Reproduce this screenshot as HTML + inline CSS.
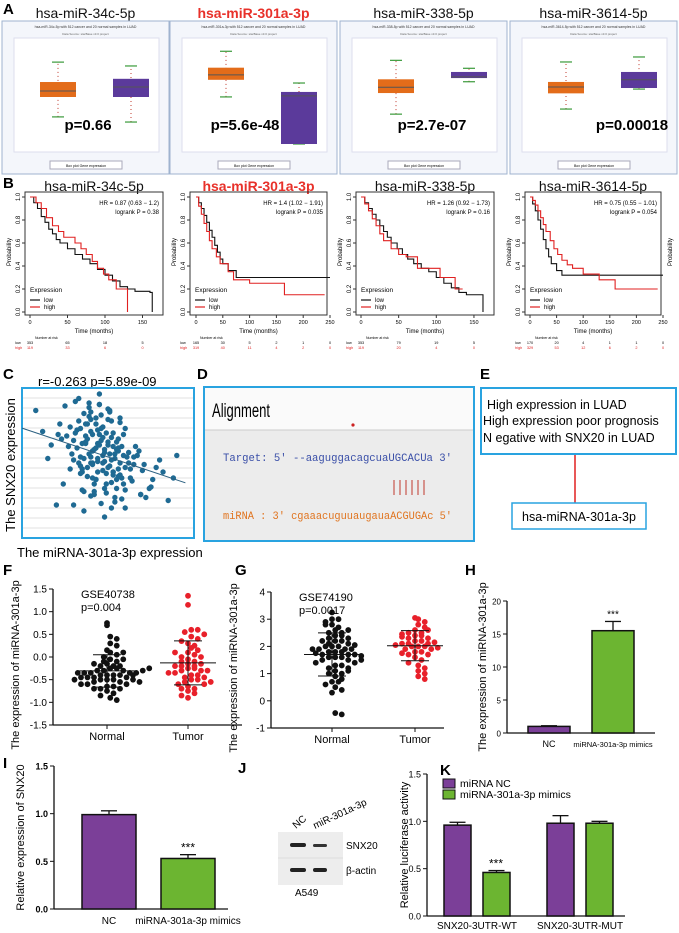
<!DOCTYPE html>
<html><head><meta charset="utf-8">
<style>
body{margin:0;background:#fff;}
svg{display:block;font-family:"Liberation Sans",sans-serif;}
.pl{font-weight:bold;font-size:15px;}
</style></head>
<body>
<svg id="fig" width="679" height="933" viewBox="0 0 679 933" xmlns="http://www.w3.org/2000/svg">
<text class="pl" x="3" y="14">A</text>
<text class="pl" x="3" y="188">B</text>
<text class="pl" x="3" y="379">C</text>
<text class="pl" x="197" y="379">D</text>
<text class="pl" x="480" y="379">E</text>
<text class="pl" x="3" y="575">F</text>
<text class="pl" x="235" y="575">G</text>
<text class="pl" x="465" y="575">H</text>
<text class="pl" x="3" y="768">I</text>
<text class="pl" x="238" y="773">J</text>
<text class="pl" x="440" y="775">K</text>
<g id="gA"></g>
<g id="gB"></g>
<g>
<text x="38" y="386" font-size="13">r=-0.263  p=5.89e-09</text>
<rect x="22" y="388" width="172" height="150" fill="#fff" stroke="#29a3e0" stroke-width="2"/>
<g id="cgrid"></g><g id="cpts"></g>
<text transform="translate(15,465) rotate(-90)" text-anchor="middle" font-size="13">The SNX20 expression</text>
<text x="17" y="557" font-size="13">The miRNA-301a-3p expression</text>
</g>
<g>
<rect x="204" y="387" width="270" height="154" fill="#ececec" stroke="#29a3e0" stroke-width="2"/>
<rect x="205" y="388" width="268" height="42" fill="#fafafa"/>
<line x1="205" y1="430" x2="473" y2="430" stroke="#ccc"/>
<text x="212" y="417" font-size="19" textLength="58" lengthAdjust="spacingAndGlyphs">Alignment</text>
<circle cx="353" cy="425" r="1.6" fill="#c22"/>
<text x="223" y="461" font-size="11" fill="#3a4fa8" font-family="Liberation Mono, monospace" textLength="229" lengthAdjust="spacingAndGlyphs">Target: 5' --aaguggacagcuaUGCACUa 3'</text>
<g stroke="#c0392b" stroke-width="1"><line x1="394" y1="480" x2="394" y2="495"/><line x1="400" y1="480" x2="400" y2="495"/><line x1="406" y1="480" x2="406" y2="495"/><line x1="412" y1="480" x2="412" y2="495"/><line x1="418" y1="480" x2="418" y2="495"/><line x1="424" y1="480" x2="424" y2="495"/></g>
<text x="223" y="519" font-size="11" fill="#e0741f" font-family="Liberation Mono, monospace" textLength="229" lengthAdjust="spacingAndGlyphs">miRNA : 3' cgaaacuguuaugauaACGUGAc 5'</text>
</g>
<g>
<rect x="481" y="388" width="195" height="66" fill="#fff" stroke="#29a3e0" stroke-width="2"/>
<text x="487" y="409" font-size="12.5">High expression in LUAD</text>
<text x="483" y="425" font-size="12.5">High expression poor prognosis</text>
<text x="483" y="442" font-size="12.5">N egative with SNX20 in LUAD</text>
<line x1="575" y1="455" x2="575" y2="503" stroke="#e02020" stroke-width="1.5"/>
<rect x="512" y="503" width="134" height="26" fill="#fff" stroke="#29a3e0" stroke-width="1.5"/>
<text x="579" y="521" font-size="12.5" text-anchor="middle">hsa-miRNA-301a-3p</text>
</g>
<g id="gF"></g>
<g id="gG"></g>
<g id="gH"></g>
<g id="gI"></g>
<g>
<rect x="278" y="832" width="65" height="53" fill="#ededed"/>
<line x1="278" y1="858" x2="343" y2="858" stroke="#ddd"/>
<rect x="290" y="843" width="16" height="4" rx="2" fill="#222"/><rect x="313" y="844" width="14" height="3" rx="1.5" fill="#333"/>
<rect x="290" y="868" width="16" height="4" rx="2" fill="#222"/><rect x="313" y="868" width="14" height="4" rx="2" fill="#222"/>
<text transform="translate(296,829) rotate(-40)" font-size="10">NC</text>
<text transform="translate(315,829) rotate(-25)" font-size="10">miR-301a-3p</text>
<text x="346" y="849" font-size="10">SNX20</text>
<text x="346" y="874" font-size="10">β-actin</text>
<text x="295" y="896" font-size="10">A549</text>
</g>
<g id="gK"></g>
</svg>
<script>
const aTitles=["hsa-miR-34c-5p","hsa-miR-301a-3p","hsa-miR-338-5p","hsa-miR-3614-5p"];
const aPvals=["p=0.66","p=5.6e-48","p=2.7e-07","p=0.00018"];
const aDomLo=[-10,-7.5,-7.5,-7.5];
const aDomHi=[15,7.5,10,7.5];
const aCancer=[[-2.5,2.15,3.55,5.65,10.3],[-0.2,2.2,2.9,3.9,6.2],[-1.8,1.65,2.6,3.9,7],[-1.9,0.3,1.2,1.9,4.7]];
const aNormal=[[-3.7,2.15,4.5,6.4,9.4],[-6.8,-6.8,-0.05,0.5,1.75],[3.5,4.1,4.3,5.1,5.7],[0.9,1.05,2.2,3.3,5.4]];
const bTitles=["hsa-miR-34c-5p","hsa-miR-301a-3p","hsa-miR-338-5p","hsa-miR-3614-5p"];
const bHR=["HR = 0.87 (0.63 − 1.2)","HR = 1.4 (1.02 − 1.91)","HR = 1.26 (0.92 − 1.73)","HR = 0.75 (0.55 − 1.01)"];
const bLog=["logrank P = 0.38","logrank P = 0.035","logrank P = 0.16","logrank P = 0.054"];
const bTicks=[[0,50,100,150],[0,50,100,150,200,250],[0,50,100,150],[0,50,100,150,200,250]];
const bLow=[
[[0,1],[5,.95],[10,.9],[15,.83],[20,.78],[25,.72],[30,.68],[35,.63],[40,.6],[50,.55],[60,.5],[70,.46],[80,.42],[90,.37],[100,.32],[110,.27],[120,.22],[130,.2],[140,.18],[160,.17],[163,0]],
[[0,1],[5,.95],[10,.9],[15,.84],[20,.78],[25,.71],[30,.65],[35,.58],[40,.52],[45,.46],[50,.42],[60,.36],[75,.3],[250,.3]],
[[0,1],[5,.95],[10,.9],[15,.85],[20,.8],[25,.75],[30,.7],[35,.65],[40,.6],[48,.55],[55,.5],[62,.46],[70,.42],[80,.38],[90,.35],[100,.3],[110,.25],[120,.21],[130,.17],[140,.15],[160,.15],[162,0]],
[[0,1],[5,.94],[10,.88],[15,.8],[20,.72],[25,.63],[30,.55],[35,.48],[40,.42],[50,.36],[60,.32],[250,.32]]];
const bHigh=[
[[0,1],[8,.95],[15,.9],[22,.82],[30,.75],[38,.7],[45,.65],[60,.6],[68,.55],[75,.5],[83,.44],[90,.38],[98,.33],[105,.28],[115,.2],[130,.2],[130,0]],
[[0,1],[5,.92],[10,.85],[15,.77],[20,.7],[25,.62],[30,.55],[38,.48],[45,.42],[60,.35],[70,.28],[100,.25],[165,.25],[165,.15],[240,.15]],
[[0,1],[5,.94],[10,.88],[15,.81],[20,.75],[25,.68],[30,.62],[40,.55],[50,.5],[60,.48],[75,.38],[100,.38],[105,.3],[125,.2],[135,.2]],
[[0,1],[5,.97],[10,.93],[15,.88],[20,.82],[25,.76],[30,.7],[38,.62],[45,.55],[52,.5],[60,.45],[70,.41],[80,.38],[100,.33],[130,.28],[160,.2],[240,.2]]];
const bRiskLow=[["353","65","18","5"],["165","30","5","2","1","0"],["353","79","19","5"],["170","20","4","1","1","0"]];
const bRiskHigh=[["119","33","6","0"],["319","40","11","4","2","0"],["119","20","4","0"],["329","53","12","6","2","0"]];
const cX=[0.8,1.5,2.2,2.5,2.8,3,3.1,3.3,3.4,3.5,3.6,3.7,3.8,3.9,4,4,4.1,4.2,4.3,4.3,4.4,4.5,4.5,4.6,4.7,4.8,4.9,5,5,5.1,5.2,5.3,5.4,5.5,5.6,5.7,5.8,6,6.2,6.4,6.6,7,7.5,8,8.5,9,2.6,2.9,3.2,3.5,3.8,4.1,4.4,4.7,5,5.3,5.6,5.9,6.3,6.8,3,3.6,4.2,4.8,5.4,6,3.3,3.9,4.5,5.1,5.7,2.4,3.7,4.6,5.5,6.5,7.2,4.0,4.9,5.8,1.7,2.0,7.8,8.8,6.1,3.4,4.3,5.2,6.9,7.4,
3.2,3.5,3.8,4.1,4.4,4.7,5.0,5.3,5.6,5.9,3.3,3.6,3.9,4.2,4.5,4.8,5.1,5.4,5.7,6.0,3.1,3.4,3.7,4.0,4.3,4.6,4.9,5.2,5.5,5.8,3.5,3.8,4.1,4.4,4.7,5.0,5.3,5.6,6.2,6.5,2.7,3.0,4.0,4.6,5.2,5.9,6.7,2.3,2.8,7.1,4.3,4.9,5.5,3.6,4.2,4.8,5.4,6.0,3.9,4.5,5.1,5.7,4.1,4.7,5.3,6.3,3.4,2.1,7.6,8.2,6.9,1.2,4.0,4.4,4.8,5.2,5.6,3.7];
const cY=[8.5,5.3,7.6,8.8,4.6,6.5,9.1,7.8,5.4,3.2,8.3,6.4,4.1,9.0,2.8,7.1,5.8,3.6,8.0,6.0,4.4,9.6,6.9,2.3,7.4,5.1,3.0,8.6,6.2,4.8,2.0,7.0,5.6,3.3,6.6,4.2,2.6,7.3,5.0,3.8,6.1,4.5,3.4,5.2,2.5,5.5,6.8,5.6,7.2,4.6,7.6,4.0,6.3,5.5,7.9,4.4,6.0,3.6,4.6,5.8,2.2,1.8,3.1,1.4,2.4,2.0,9.3,8.1,8.9,8.4,7.7,3.6,6.8,6.5,5.9,4.9,2.7,5.0,4.3,4.0,6.2,2.2,4.7,4.0,5.4,4.8,3.9,3.7,2.9,3.3,
6.0,6.3,6.6,6.9,7.2,6.7,6.4,6.1,5.8,5.5,5.0,5.3,5.6,5.9,6.2,5.9,5.6,5.3,5.0,4.7,7.0,7.3,7.6,7.9,7.6,7.3,7.0,6.7,6.4,6.1,4.4,4.7,5.0,5.3,5.0,4.7,4.4,4.1,5.7,5.4,6.1,5.2,8.4,8.2,7.8,6.9,5.5,6.6,7.4,4.9,3.9,3.6,3.9,3.1,2.9,3.3,2.7,3.2,8.7,8.9,8.5,8.0,4.9,4.5,4.2,4.0,4.3,6.9,3.9,4.4,2.9,7.1,5.4,5.1,5.7,5.2,4.6,6.3];
const fNormal=[0.75,0.7,0.45,0.4,0.3,0.25,0.15,0.1,0.05,0,-0.05,-0.1,-0.1,-0.15,-0.2,-0.2,-0.25,-0.25,-0.3,-0.3,-0.3,-0.35,-0.35,-0.35,-0.35,-0.4,-0.4,-0.4,-0.4,-0.45,-0.45,-0.45,-0.5,-0.5,-0.5,-0.55,-0.55,-0.6,-0.6,-0.65,-0.65,-0.7,-0.7,-0.75,-0.8,-0.85,-0.9,-0.95,-0.3,-0.4,-0.5,-0.35,-0.45,-0.2,-0.6,-0.15,-0.05,0.1,-0.7,-0.55,-0.25,-0.5];
const fTumor=[1.35,1.15,0.6,0.6,0.55,0.5,0.45,0.4,0.3,0.25,0.2,0.15,0.1,0.05,0,-0.05,-0.1,-0.1,-0.15,-0.2,-0.2,-0.25,-0.25,-0.3,-0.3,-0.35,-0.4,-0.4,-0.45,-0.5,-0.5,-0.55,-0.6,-0.6,-0.65,-0.7,-0.75,-0.8,-0.85,-0.9,0.35,0.0,-0.15,-0.3,-0.45,-0.55,-0.7,0.1,-0.2,-0.35];
const gNormal=[3.25,3.0,3.0,2.9,2.8,2.7,2.6,2.5,2.5,2.4,2.4,2.3,2.3,2.2,2.2,2.1,2.1,2.0,2.0,2.0,1.9,1.9,1.9,1.8,1.8,1.8,1.7,1.7,1.7,1.6,1.6,1.6,1.5,1.5,1.4,1.4,1.3,1.3,1.2,1.2,1.1,1.0,1.0,0.9,0.8,0.7,0.7,0.6,0.5,0.4,0.3,-0.45,-0.5,2.6,2.2,1.9,1.5,1.1,2.8,1.75,2.05,1.65];
const gTumor=[3.05,3.0,2.9,2.8,2.7,2.6,2.5,2.5,2.4,2.4,2.3,2.3,2.2,2.2,2.1,2.1,2.1,2.0,2.0,2.0,1.9,1.9,1.8,1.8,1.7,1.7,1.6,1.5,1.4,1.3,1.2,1.1,1.0,0.9,0.8,2.6,2.35,2.15,1.95,1.75,2.45,2.05];
const hCats=["NC","miRNA-301a-3p mimics"];
const hVals=[1.0,15.5];
const hErr=[0.1,1.4];
const iCats=["NC","miRNA-301a-3p mimics"];
const iVals=[0.99,0.53];
const iErr=[0.04,0.04];
const kGroups=["SNX20-3UTR-WT","SNX20-3UTR-MUT"];
const kNC=[0.96,0.98];
const kNCErr=[0.03,0.08];
const kMim=[0.46,0.98];
const kMimErr=[0.02,0.02];

const NS="http://www.w3.org/2000/svg";
function mk(parent,tag,attrs,txt){const e=document.createElementNS(NS,tag);for(const k in attrs)e.setAttribute(k,attrs[k]);if(txt!==undefined)e.textContent=txt;parent.appendChild(e);return e;}
const PURPLE="#7b3f98",GREEN="#6cb531";

(function(){
 const g=document.getElementById('gA');
 const lefts=[2,170,340,510];
 for(let i=0;i<4;i++){
  const L=lefts[i],W=167;
  const t=mk(g,'text',{x:L+W/2,y:18,'text-anchor':'middle','font-size':14,fill:i==1?'#e8312a':'#111','font-weight':i==1?'bold':'normal'},aTitles[i]);
  
  
  const fr=mk(g,'rect',{x:L,y:21,width:W,height:153,fill:'#f4f6fb',stroke:'#9fb3cf','stroke-width':1});
  
  
  mk(g,'rect',{x:L+12,y:38,width:W-22,height:114,fill:'#fff',stroke:'#dde'});
  mk(g,'text',{x:L+W/2,y:28,'text-anchor':'middle','font-size':3.5,fill:'#333'},aTitles[i]+" with 512 cancer and 20 normal samples in LUAD");
  mk(g,'text',{x:L+W/2,y:35,'text-anchor':'middle','font-size':3,fill:'#666'},"Data Source: starBase v3.0 project");
  const lo=aDomLo[i],hi=aDomHi[i];
  const y=v=>42+(hi-v)/(hi-lo)*107;
  const boxes=[[aCancer[i],L+56,'#e36c1a','cancer'],[aNormal[i],L+129,'#5b3a9b','normal']];
  boxes.forEach(([s,cx,col,nm])=>{
   mk(g,'line',{x1:cx,y1:y(s[0]),x2:cx,y2:y(s[4]),stroke:'#c0392b','stroke-width':1,'stroke-dasharray':'1,3'});
   mk(g,'line',{x1:cx-6,y1:y(s[4]),x2:cx+6,y2:y(s[4]),stroke:'#3a9a3a','stroke-width':1.2});
   mk(g,'line',{x1:cx-6,y1:y(s[0]),x2:cx+6,y2:y(s[0]),stroke:'#3a9a3a','stroke-width':1.2});
   const b=mk(g,'rect',{x:cx-18,y:y(s[3]),width:36,height:Math.max(1,y(s[1])-y(s[3])),fill:col});
   
   
   mk(g,'line',{x1:cx-18,y1:y(s[2]),x2:cx+18,y2:y(s[2]),stroke:'#555','stroke-width':1});
  });
  const p=mk(g,'text',{x:L+(i==3?122:i==0?86:i==1?75:92),y:130,'text-anchor':'middle','font-size':15,'font-weight':'bold'},aPvals[i]);
  
  
  mk(g,'rect',{x:L+48,y:161,width:72,height:8,fill:'#fff',stroke:'#aab'});
  mk(g,'text',{x:L+84,y:167,'text-anchor':'middle','font-size':3.5},"Box plot    Gene expression");
 }
})();

(function(){
 const g=document.getElementById('gB');
 const fx=[[25,163,30,0.75],[190,327,196,0.536],[356,494,361,0.753],[525,661,530,0.532]];
 for(let i=0;i<4;i++){
  const [L,R,x0,k]=fx[i];
  const X=t=>x0+t*k, Y=p=>312-p*115;
  const t=mk(g,'text',{x:(L+R)/2,y:191,'text-anchor':'middle','font-size':14,fill:i==1?'#e8312a':'#111','font-weight':i==1?'bold':'normal'},bTitles[i]);
  
  
  const fr=mk(g,'rect',{x:L,y:192,width:R-L,height:123,fill:'none',stroke:'#333','stroke-width':1});
  
  
  [0,0.2,0.4,0.6,0.8,1].forEach(v=>{
   mk(g,'line',{x1:L-3,y1:Y(v),x2:L,y2:Y(v),stroke:'#333'});
   mk(g,'text',{transform:`translate(${L-5},${Y(v)}) rotate(-90)`,'text-anchor':'middle','font-size':6},v.toFixed(1));
  });
  mk(g,'text',{transform:`translate(${L-14},252) rotate(-90)`,'text-anchor':'middle','font-size':6},'Probability');
  bTicks[i].forEach(v=>{
   mk(g,'line',{x1:X(v),y1:315,x2:X(v),y2:318,stroke:'#333'});
   mk(g,'text',{x:X(v),y:324,'text-anchor':'middle','font-size':5.5},v);
  });
  mk(g,'text',{x:(L+R)/2,y:333,'text-anchor':'middle','font-size':6},'Time (months)');
  [[bLow[i],'#111','low'],[bHigh[i],'#e02020','high']].forEach(([pts,col,nm])=>{
   let d='M'+X(pts[0][0])+','+Y(pts[0][1]);
   for(let j=1;j<pts.length;j++){d+=' H'+X(pts[j][0])+' V'+Y(pts[j][1]);}
   const pth=mk(g,'path',{d:d,fill:'none',stroke:col,'stroke-width':1.1});
   
   
  });
  mk(g,'text',{x:R-4,y:205,'text-anchor':'end','font-size':6},bHR[i]);
  mk(g,'text',{x:R-4,y:214,'text-anchor':'end','font-size':6},bLog[i]);
  mk(g,'text',{x:L+5,y:292,'font-size':6.5},'Expression');
  mk(g,'line',{x1:L+5,y1:300,x2:L+15,y2:300,stroke:'#111','stroke-width':1.2});
  mk(g,'text',{x:L+19,y:302,'font-size':6},'low');
  mk(g,'line',{x1:L+5,y1:307,x2:L+15,y2:307,stroke:'#e02020','stroke-width':1.2});
  mk(g,'text',{x:L+19,y:309,'font-size':6},'high');
  mk(g,'text',{x:L+10,y:339,'font-size':3.5},'Number at risk');
  bTicks[i].forEach((v,j)=>{
   mk(g,'text',{x:X(v),y:344,'text-anchor':'middle','font-size':3.8},bRiskLow[i][j]);
   mk(g,'text',{x:X(v),y:349,'text-anchor':'middle','font-size':3.8,fill:'#e02020'},bRiskHigh[i][j]);
  });
  mk(g,'text',{x:L-10,y:344,'font-size':3.8},'low');
  mk(g,'text',{x:L-10,y:349,'font-size':3.8,fill:'#e02020'},'high');
 }
 mk(g,'text',{transform:'translate(672,252) rotate(-90)','text-anchor':'middle','font-size':6},'Probability');
})();

(function(){
 const gg=document.getElementById('cgrid'), gp=document.getElementById('cpts');
 for(let y=398;y<538;y+=10) mk(gg,'line',{x1:23,y1:y,x2:193,y2:y,stroke:'#e2e2e2'});
 const X=v=>22+v*17.2, Y=v=>538-v*15;
 const n=cX.length;let mx=0,my=0;for(let i=0;i<n;i++){mx+=cX[i];my+=cY[i];}mx/=n;my/=n;
 let sxy=0,sxx=0;for(let i=0;i<n;i++){sxy+=(cX[i]-mx)*(cY[i]-my);sxx+=(cX[i]-mx)**2;}
 const b=sxy/sxx,a=my-b*mx;
 for(let i=0;i<n;i++){
  const c=mk(gp,'circle',{cx:X(cX[i]),cy:Y(cY[i]),r:2.7,fill:'#1f6a93'});
  
  
 }
 const ln=mk(gp,'line',{x1:X(0),y1:Y(a),x2:X(9.5),y2:Y(a+b*9.5),stroke:'#2a5f80','stroke-width':1});
 
 
})();

function dotPlot(gid,ax,top,bot,lo,hi,ticks,dec,xN,xT,xEnd,normal,tumor,title,pval,ylab){
 const g=document.getElementById(gid);
 const Y=v=>bot-(v-lo)/(hi-lo)*(bot-top);
 mk(g,'line',{x1:ax,y1:top,x2:ax,y2:bot,stroke:'#111','stroke-width':1.3});
 mk(g,'line',{x1:ax,y1:bot,x2:xEnd,y2:bot,stroke:'#111','stroke-width':1.3});
 ticks.forEach(v=>{mk(g,'line',{x1:ax-4,y1:Y(v),x2:ax,y2:Y(v),stroke:'#111'});
  mk(g,'text',{x:ax-6,y:Y(v)+3.5,'text-anchor':'end','font-size':10},v.toFixed(dec));});
 [[normal,xN,'#111','Normal'],[tumor,xT,'#e8202a','Tumor']].forEach(([vals,cx,col,nm])=>{
  mk(g,'line',{x1:cx,y1:bot,x2:cx,y2:bot+4,stroke:'#111'});
  const lb=mk(g,'text',{x:cx,y:bot+15,'text-anchor':'middle','font-size':11},nm);
  
  
  const bins={};
  vals.forEach(v=>{const k=Math.round(Y(v)/5.5);bins[k]=bins[k]||[];bins[k].push(v);});
  for(const k in bins){bins[k].forEach((v,j)=>{
   const off=(j%2?1:-1)*Math.ceil(j/2)*6.5+(bins[k].length%2?0:3.25);
   const c=mk(g,'circle',{cx:cx+off,cy:Y(v),r:2.9,fill:col});
   
   
  });}
  const m=vals.reduce((s,v)=>s+v,0)/vals.length;
  const sd=Math.sqrt(vals.reduce((s,v)=>s+(v-m)**2,0)/vals.length);
  mk(g,'line',{x1:cx-28,y1:Y(m),x2:cx+28,y2:Y(m),stroke:'#111','stroke-width':1});
  mk(g,'line',{x1:cx,y1:Y(m-sd),x2:cx,y2:Y(m+sd),stroke:'#111','stroke-width':1});
  mk(g,'line',{x1:cx-14,y1:Y(m+sd),x2:cx+14,y2:Y(m+sd),stroke:'#111','stroke-width':1});
  mk(g,'line',{x1:cx-14,y1:Y(m-sd),x2:cx+14,y2:Y(m-sd),stroke:'#111','stroke-width':1});
 });
 mk(g,'text',{x:ax+28,y:top+9,'font-size':11},title);
 mk(g,'text',{x:ax+28,y:top+22,'font-size':11},pval);
 mk(g,'text',{transform:`translate(${ax-34},${(top+bot)/2+8}) rotate(-90)`,'text-anchor':'middle','font-size':11},ylab);
}
dotPlot('gF',53,589,725,-1.5,1.5,[1.5,1.0,0.5,0.0,-0.5,-1.0,-1.5],1,107,188,242,fNormal,fTumor,'GSE40738','p=0.004','The expression of miRNA-301a-3p');
dotPlot('gG',271,592,728,-1,4,[4,3,2,1,0,-1],0,332,415,444,gNormal,gTumor,'GSE74190','p=0.0017','The expression of miRNA-301a-3p');

function barAxis(g,ax,top,bot,lo,hi,ticks,dec,xEnd,ylab,ylx,fs,bold){
 const Y=v=>bot-(v-lo)/(hi-lo)*(bot-top);
 mk(g,'line',{x1:ax,y1:top,x2:ax,y2:bot,stroke:'#111','stroke-width':1.3});
 mk(g,'line',{x1:ax,y1:bot,x2:xEnd,y2:bot,stroke:'#111','stroke-width':1.3});
 ticks.forEach(v=>{mk(g,'line',{x1:ax-4,y1:Y(v),x2:ax,y2:Y(v),stroke:'#111'});
  mk(g,'text',{x:ax-6,y:Y(v)+3.5,'text-anchor':'end','font-size':fs,'font-weight':bold?'bold':'normal'},v.toFixed(dec));});
 mk(g,'text',{transform:`translate(${ylx},${(top+bot)/2}) rotate(-90)`,'text-anchor':'middle','font-size':11},ylab);
 return Y;
}
function bar(g,Y,x,w,v,e,col,name,bot){
 const r=mk(g,'rect',{x:x,y:Y(v),width:w,height:bot-Y(v),fill:col,stroke:'#111','stroke-width':1.5});
 
 
 mk(g,'line',{x1:x+w/2,y1:Y(v),x2:x+w/2,y2:Y(v+e),stroke:'#111','stroke-width':1.3});
 mk(g,'line',{x1:x+w/2-8,y1:Y(v+e),x2:x+w/2+8,y2:Y(v+e),stroke:'#111','stroke-width':1.3});
}
(function(){
 const g=document.getElementById('gH');const bot=733;
 const Y=barAxis(g,507,601,bot,0,20,[0,5,10,15,20],0,655,'The expression of miRNA-301a-3p',486,8,false);
 const xs=[528,592];const cols=[PURPLE,GREEN];
 hVals.forEach((v,i)=>{bar(g,Y,xs[i],42,v,hErr[i],cols[i],'bar-'+(i?'mimics':'nc'),bot);
  mk(g,'text',{x:xs[i]+21,y:747,'text-anchor':'middle','font-size':i?7.5:9},hCats[i]);});
 mk(g,'text',{x:613,y:Y(hVals[1]+hErr[1])-4,'text-anchor':'middle','font-size':10},'***');
})();
(function(){
 const g=document.getElementById('gI');const bot=909;
 const Y=barAxis(g,54,766,bot,0,1.5,[0,0.5,1.0,1.5],1,228,'Relative expression of SNX20',24,9,true);
 const xs=[82,161];const cols=[PURPLE,GREEN];
 iVals.forEach((v,i)=>{bar(g,Y,xs[i],54,v,iErr[i],cols[i],'bar-'+(i?'mimics':'nc'),bot);
  mk(g,'text',{x:xs[i]+27,y:924,'text-anchor':'middle','font-size':10},iCats[i]);});
 mk(g,'text',{x:188,y:Y(iVals[1]+iErr[1])-3,'text-anchor':'middle','font-size':12},'***');
})();
(function(){
 const g=document.getElementById('gK');const bot=916;
 const Y=barAxis(g,427,774,bot,0,1.5,[0,0.5,1.0,1.5],1,625,'Relative luciferase activity',408,9,false);
 const gx=[444,547];
 kGroups.forEach((nm,i)=>{
  bar(g,Y,gx[i],27,kNC[i],kNCErr[i],PURPLE,'bar-nc-'+(i?'mut':'wt'),bot);
  bar(g,Y,gx[i]+39,27,kMim[i],kMimErr[i],GREEN,'bar-mimics-'+(i?'mut':'wt'),bot);
  mk(g,'text',{x:gx[i]+33,y:929,'text-anchor':'middle','font-size':10},nm);
 });
 mk(g,'text',{x:496,y:Y(kMim[0]+kMimErr[0])-3,'text-anchor':'middle','font-size':12},'***');
 const l1=mk(g,'rect',{x:443,y:779,width:12,height:9,fill:PURPLE,stroke:'#111'});
 
 
 mk(g,'text',{x:460,y:787,'font-size':10.5},'miRNA NC');
 const l2=mk(g,'rect',{x:443,y:790,width:12,height:9,fill:GREEN,stroke:'#111'});
 
 
 mk(g,'text',{x:460,y:798,'font-size':10.5},'miRNA-301a-3p mimics');
})();
</script>
</body></html>
